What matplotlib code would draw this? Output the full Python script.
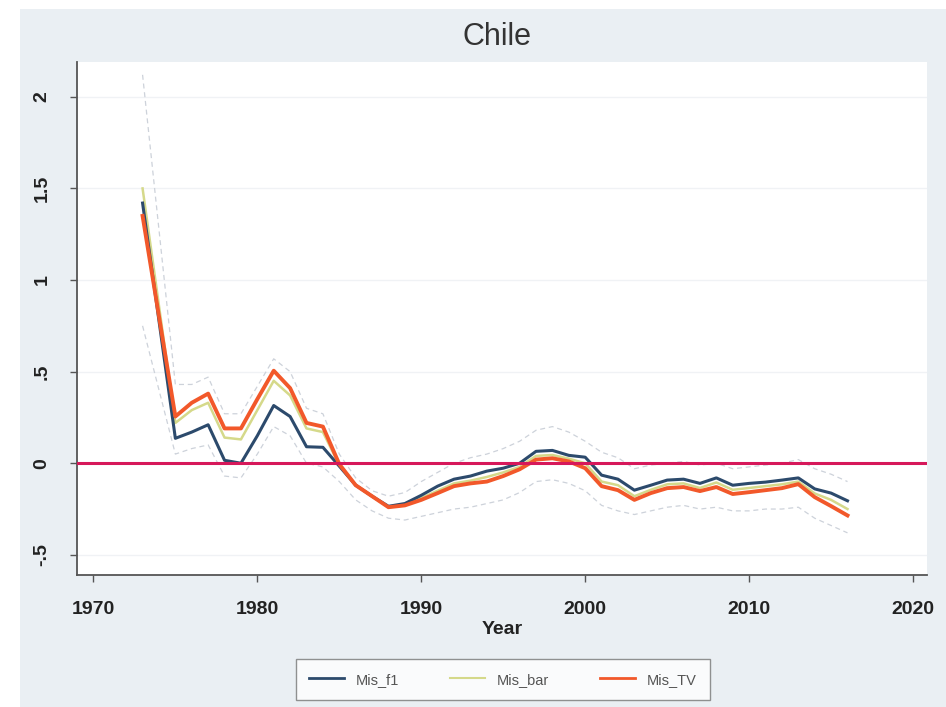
import matplotlib
matplotlib.use("Agg")
import matplotlib.pyplot as plt
from matplotlib.lines import Line2D

plt.rcParams['font.family'] = ['Liberation Sans', 'DejaVu Sans']

years = [1973, 1975, 1976, 1977, 1978, 1979, 1980, 1981, 1982, 1983, 1984,
         1985, 1986, 1987, 1988, 1989, 1990, 1991, 1992, 1993, 1994, 1995,
         1996, 1997, 1998, 1999, 2000, 2001, 2002, 2003, 2004, 2005, 2006,
         2007, 2008, 2009, 2010, 2011, 2012, 2013, 2014, 2015, 2016]

mis_f1 = [1.42, 0.136, 0.17, 0.21, 0.016, 0.0, 0.15, 0.315, 0.255, 0.09, 0.087,
          -0.016, -0.12, -0.18, -0.235, -0.22, -0.175, -0.125, -0.087, -0.07, -0.043, -0.027,
          0.0, 0.065, 0.07, 0.043, 0.033, -0.065, -0.087, -0.147, -0.12, -0.092, -0.087,
          -0.11, -0.08, -0.12, -0.11, -0.103, -0.092, -0.08, -0.14, -0.163, -0.205]

mis_bar = [1.5, 0.22, 0.29, 0.33, 0.14, 0.13, 0.29, 0.45, 0.37, 0.19, 0.17,
           -0.01, -0.12, -0.18, -0.24, -0.23, -0.19, -0.15, -0.11, -0.095, -0.075, -0.05,
           -0.02, 0.04, 0.045, 0.025, 0.0, -0.1, -0.12, -0.18, -0.145, -0.115, -0.11,
           -0.135, -0.105, -0.145, -0.135, -0.125, -0.115, -0.1, -0.165, -0.2, -0.25]

mis_tv = [1.35, 0.255, 0.33, 0.38, 0.19, 0.19, 0.35, 0.505, 0.41, 0.22, 0.2,
          -0.005, -0.12, -0.18, -0.24, -0.23, -0.2, -0.163, -0.125, -0.11, -0.1, -0.07,
          -0.033, 0.02, 0.027, 0.01, -0.027, -0.125, -0.147, -0.2, -0.163, -0.136, -0.13,
          -0.152, -0.13, -0.168, -0.158, -0.147, -0.136, -0.114, -0.185, -0.234, -0.285]

band_upper = [2.12, 0.43, 0.43, 0.47, 0.27, 0.27, 0.42, 0.57, 0.5, 0.3, 0.27,
              0.05, -0.08, -0.15, -0.18, -0.16, -0.1, -0.05, 0.0, 0.03, 0.05, 0.08,
              0.12, 0.18, 0.2, 0.17, 0.12, 0.06, 0.03, -0.03, -0.01, 0.0, 0.01,
              -0.01, 0.0, -0.03, -0.02, -0.01, 0.0, 0.02, -0.03, -0.06, -0.1]

band_lower = [0.75, 0.05, 0.08, 0.1, -0.07, -0.08, 0.05, 0.2, 0.15, 0.0, -0.02,
              -0.1, -0.2, -0.26, -0.3, -0.31, -0.29, -0.27, -0.25, -0.24, -0.22, -0.2,
              -0.16, -0.1, -0.09, -0.11, -0.15, -0.23, -0.26, -0.28, -0.26, -0.24, -0.23,
              -0.25, -0.24, -0.26, -0.26, -0.25, -0.25, -0.24, -0.3, -0.34, -0.38]

xticks = [1970, 1980, 1990, 2000, 2010, 2020]
yticks = [-0.5, 0, 0.5, 1, 1.5, 2]
ytick_labels = ['-.5', '0', '.5', '1', '1.5', '2']

W, H = 946, 707
fig = plt.figure(figsize=(W / 100, H / 100), dpi=100, facecolor='white')

# graph region background (Stata-like)
bg = fig.add_axes([20 / W, 0, 1 - 20 / W, 1 - 9 / H], zorder=-5)
bg.set_facecolor('#eaeff3')
bg.set_xticks([])
bg.set_yticks([])
for s in bg.spines.values():
    s.set_visible(False)

ax = fig.add_axes([77 / W, 1 - 575 / H, (927 - 77) / W, (575 - 62) / H], zorder=1)
ax.set_facecolor('white')

c_f1 = '#2c4a6c'
c_bar = '#d5d98a'
c_tv = '#f2582a'

for y in yticks:
    ax.axhline(y, color='#f0f2f5', lw=1.0, zorder=1)

ax.plot(years, band_upper, color='#cdd2da', lw=0.9, ls=(0, (4, 3)), zorder=2)
ax.plot(years, band_lower, color='#cdd2da', lw=0.9, ls=(0, (4, 3)), zorder=2)

ax.plot(years, mis_bar, color=c_bar, lw=1.8, zorder=3, label='Mis_bar')
ax.plot(years, mis_f1, color=c_f1, lw=2.2, zorder=4, label='Mis_f1')
ax.plot(years, mis_tv, color=c_tv, lw=2.8, zorder=5, label='Mis_TV')

ax.axhline(0, color='#d6185a', lw=2.2, zorder=6)

ax.set_xlim(1969.0, 2020.85)
ax.set_ylim(-0.61, 2.19)
ax.set_xticks(xticks)
ax.set_xticklabels([str(x) for x in xticks], fontsize=14, fontweight='bold', color='#222222')
ax.set_yticks(yticks)
ax.set_yticklabels(ytick_labels, fontsize=14, fontweight='bold', color='#222222',
                   rotation=90, va='center')
ax.tick_params(axis='both', direction='out', length=5, width=1.0, color='#555555')
ax.tick_params(axis='x', pad=14)
ax.tick_params(axis='y', pad=14)

for s in ['top', 'right']:
    ax.spines[s].set_visible(False)
for s in ['left', 'bottom']:
    ax.spines[s].set_color('#555555')
    ax.spines[s].set_linewidth(1.3)

ax.set_xlabel('Year', fontsize=14, fontweight='bold', color='#222222', labelpad=2)
fig.text(497 / W, 1 - 37 / H, 'Chile', ha='center', va='center', fontsize=22, color='#333333')

handles = [Line2D([], [], color=c_f1, lw=2.0),
           Line2D([], [], color=c_bar, lw=1.5),
           Line2D([], [], color=c_tv, lw=2.0)]
leg = fig.legend(handles, ['Mis_f1', 'Mis_bar', 'Mis_TV'], loc='lower center',
                 bbox_to_anchor=(503 / W, 0.0), ncol=3, frameon=True, fancybox=False,
                 fontsize=10.5, handlelength=2.4, columnspacing=3.5, borderpad=0.9,
                 labelcolor='#555555')
leg.get_frame().set_edgecolor('#777777')
leg.get_frame().set_linewidth(1.0)
leg.get_frame().set_facecolor('white')
leg.set_zorder(10)

fig.savefig('out.png', dpi=100, facecolor=fig.get_facecolor())
